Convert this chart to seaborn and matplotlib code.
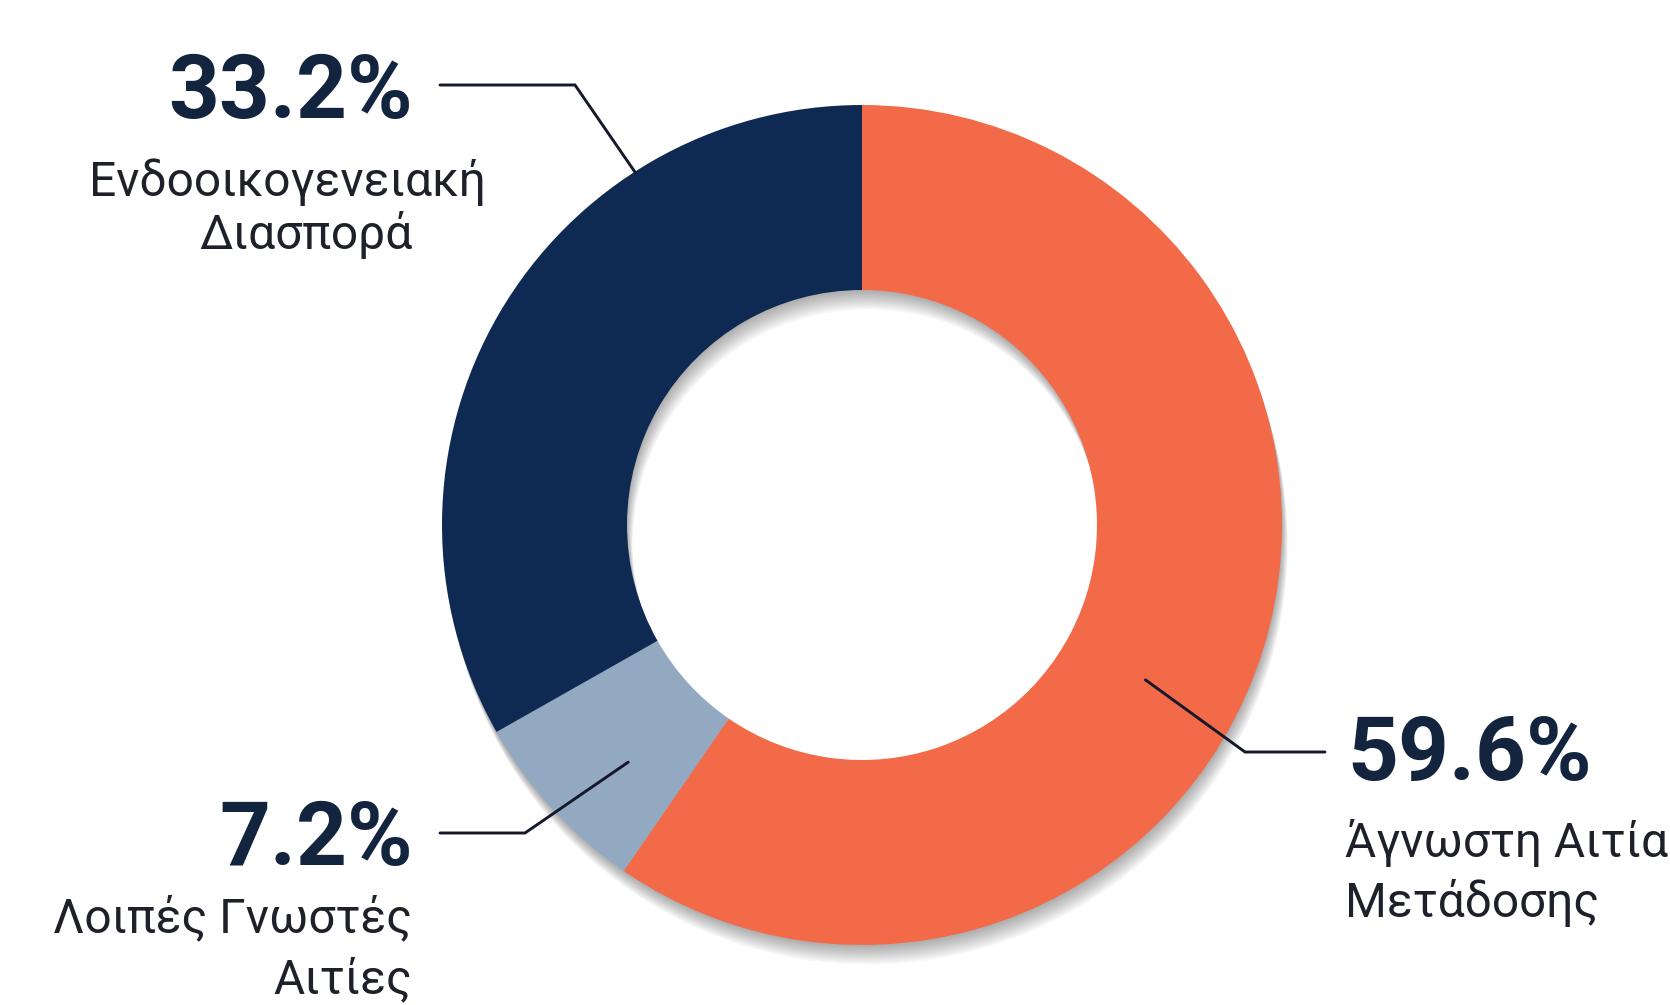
import numpy as np
import matplotlib.pyplot as plt
import matplotlib.patheffects as pe
import seaborn as sns

# δεδομένα
categories = ['Άγνωστη Αιτία Μετάδοσης', 'Λοιπές Γνωστές Αιτίες', 'Ενδοοικογενειακή Διασπορά']
shares = [59.6, 7.2, 33.2]
label_lines = [['Άγνωστη Αιτία', 'Μετάδοσης'],
               ['Λοιπές Γνωστές', 'Αιτίες'],
               ['Ενδοοικογενειακή', 'Διασπορά']]
pct_labels = [f'{v:.1f}%' for v in shares]

sns.set_theme(style='white')
plt.rcParams['font.family'] = ['Roboto', 'DejaVu Sans']
colors = sns.color_palette(['#F26A48', '#93A8C1', '#0E2A52'])

W, H = 1670, 1005
fig = plt.figure(figsize=(W / 100, H / 100), dpi=100)
ax = fig.add_axes([0, 0, 1, 1])

cx, cy = 862, H - 525
R, ring = 420, 185

# soft shadow under the ring (only the shadow is drawn here)
shadow_fx = [pe.SimplePatchShadow(offset=(k * 0.3, -k), shadow_rgbFace='k', alpha=0.028)
             for k in range(1, 15)]
ax.pie(shares, startangle=90, counterclock=False, center=(cx, cy), radius=R,
       colors=['white'] * 3, wedgeprops=dict(width=ring, linewidth=0, path_effects=shadow_fx))

wedges, _ = ax.pie(shares, startangle=90, counterclock=False, center=(cx, cy), radius=R,
                   colors=colors, wedgeprops=dict(width=ring, linewidth=0))

ax.set_xlim(0, W)
ax.set_ylim(0, H)
ax.axis('off')

# leader lines: where they start inside each wedge, elbow, end (pixels from top)
anchor_frac = [0.447, 0.613, 0.274]
anchor_r = [323, 333, 419]
elbows = [(1245, 752), (525, 833), (575, 85)]
ends = [(1325, 752), (440, 833), (440, 85)]

pct_pos = [(1347, 780, 'left'), (413, 865, 'right'), (413, 118, 'right')]
sub_pos = [[(1345, 857, 'left'), (1345, 917, 'left')],
           [(412, 932, 'right'), (412, 993, 'right')],
           [(287, 196, 'center'), (413, 249, 'right')]]

line_col = '#15182A'
pct_col = '#13243F'
txt_col = '#1E2129'

for i, w in enumerate(wedges):
    th = np.deg2rad(w.theta1 + anchor_frac[i] * (w.theta2 - w.theta1))
    ax_, ay_ = cx + anchor_r[i] * np.cos(th), cy + anchor_r[i] * np.sin(th)
    ex, ey = elbows[i]
    fx, fy = ends[i]
    ax.plot([ax_, ex, fx], [ay_, H - ey, H - fy], color=line_col, lw=2.1,
            solid_joinstyle='miter', zorder=5)

    x, y, ha = pct_pos[i]
    ax.text(x, H - y, pct_labels[i], ha=ha, va='baseline', fontsize=64,
            fontweight='bold', color=pct_col)
    for line, (x, y, ha) in zip(label_lines[i], sub_pos[i]):
        ax.text(x, H - y, line, ha=ha, va='baseline', fontsize=34.5, color=txt_col)

fig.savefig('out.png', dpi=100, facecolor='white')
